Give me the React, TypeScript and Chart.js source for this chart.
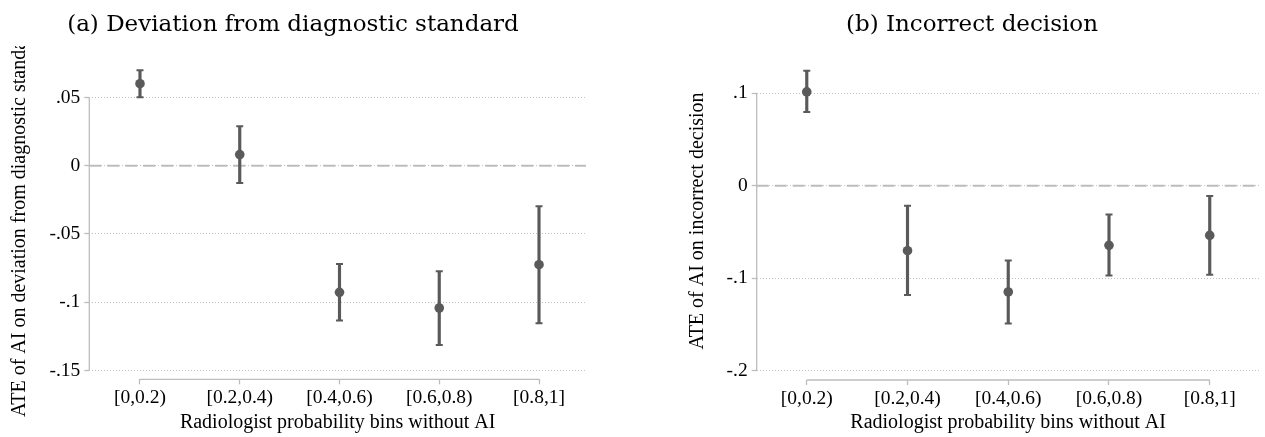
import React, { useEffect, useRef } from 'react';
import { Chart, registerables } from 'chart.js';

Chart.register(...registerables);

// ---------- data ----------
const categories = ['[0,0.2)', '[0.2,0.4)', '[0.4,0.6)', '[0.6,0.8)', '[0.8,1]'];
const xTitle = 'Radiologist probability bins without AI';

const devTitle = '(a) Deviation from diagnostic standard';
const devYTitle = 'ATE of AI on deviation from diagnostic standard';
const devEstimate = [0.06, 0.0081, -0.0927, -0.1042, -0.0725];
const devLower = [0.0501, -0.0127, -0.1133, -0.1313, -0.1154];
const devUpper = [0.0698, 0.0288, -0.072, -0.0773, -0.0297];
const devYTicks = [-0.15, -0.1, -0.05, 0, 0.05];
const devYTickLabels = ['-.15', '-.1', '-.05', '0', '.05'];

const incTitle = '(b) Incorrect decision';
const incYTitle = 'ATE of AI on incorrect decision';
const incEstimate = [0.1017, -0.0702, -0.1148, -0.0644, -0.0536];
const incLower = [0.0798, -0.1182, -0.149, -0.0969, -0.0962];
const incUpper = [0.1244, -0.0216, -0.0807, -0.0309, -0.011];
const incYTicks = [-0.2, -0.1, 0, 0.1];
const incYTickLabels = ['-.2', '-.1', '0', '.1'];

const MARK = '#5a5a5a';
const AXIS = '#bdbdbd';
const GRID = '#c2c2c2';
const SERIF = '"Liberation Serif", "Times New Roman", serif';
const TITLE_FONT = '"DejaVu Serif", serif';

type PanelProps = {
  title: string;
  yTitle: string;
  estimate: number[];
  lower: number[];
  upper: number[];
  yTicks: number[];
  yTickLabels: string[];
  yMin: number;
  yMax: number;
  xMin: number;
  xMax: number;
  left: number;
  width: number;
  yScaleWidth: number;
  xScaleHeight: number;
  padRight: number;
  yTitleX: number;
  clipTop: number;
};

function Panel(p: PanelProps) {
  const ref = useRef<HTMLCanvasElement | null>(null);
  useEffect(() => {
    if (!ref.current) return;
    const axisLines = {
      id: 'axisLines',
      beforeDatasetsDraw(chart: any) {
        const { ctx, chartArea, scales } = chart;
        const ys = scales.y;
        const xs = scales.x;
        ctx.save();
        ctx.strokeStyle = AXIS;
        ctx.lineWidth = 1.3;
        ctx.beginPath();
        ctx.moveTo(chartArea.left, ys.getPixelForValue(p.yTicks[0]));
        ctx.lineTo(chartArea.left, ys.getPixelForValue(p.yTicks[p.yTicks.length - 1]));
        ctx.moveTo(xs.getPixelForValue(1), chartArea.bottom);
        ctx.lineTo(xs.getPixelForValue(categories.length), chartArea.bottom);
        ctx.stroke();
        ctx.restore();
      },
    };
    const yTitlePlugin = {
      id: 'yTitle',
      afterDraw(chart: any) {
        const { ctx, chartArea } = chart;
        ctx.save();
        ctx.beginPath();
        ctx.rect(0, p.clipTop, chart.width, chart.height - p.clipTop);
        ctx.clip();
        ctx.translate(p.yTitleX, (chartArea.top + chartArea.bottom) / 2);
        ctx.rotate(-Math.PI / 2);
        ctx.font = `20px ${SERIF}`;
        ctx.fillStyle = '#000';
        ctx.textAlign = 'center';
        ctx.textBaseline = 'alphabetic';
        ctx.fillText(p.yTitle, 0, 0);
        ctx.restore();
      },
    };
    const chart = new Chart(ref.current, {
      type: 'scatter',
      data: {
        datasets: [
          {
            type: 'scatter',
            data: p.estimate.map((v, i) => ({ x: i + 1, y: v })),
            pointRadius: 4.8,
            pointHoverRadius: 4.8,
            pointBackgroundColor: MARK,
            pointBorderWidth: 0,
            order: 0,
          },
          {
            type: 'scatter',
            data: [
              ...p.upper.map((v, i) => ({ x: i + 1, y: v })),
              ...p.lower.map((v, i) => ({ x: i + 1, y: v })),
            ],
            pointStyle: 'line',
            pointRadius: 3.5,
            pointHoverRadius: 3.5,
            pointBorderColor: MARK,
            pointBorderWidth: 2,
            order: 1,
          },
          {
            type: 'bar',
            data: p.lower.map((lo, i) => ({ x: i + 1, y: [lo, p.upper[i]] })),
            backgroundColor: MARK,
            borderWidth: 0,
            barThickness: 2.5,
            order: 2,
          },
          {
            type: 'line',
            data: [
              { x: p.xMin, y: 0 },
              { x: p.xMax, y: 0 },
            ],
            borderColor: AXIS,
            borderWidth: 2,
            borderDash: [12, 6],
            pointRadius: 0,
            order: 3,
          },
        ] as any,
      },
      options: {
        animation: false,
        responsive: false,
        devicePixelRatio: 1,
        events: [],
        layout: { padding: { left: 0, right: p.padRight, top: 0, bottom: 0 } },
        plugins: {
          legend: { display: false },
          tooltip: { enabled: false },
          title: {
            display: true,
            text: p.title,
            color: '#000',
            font: { family: TITLE_FONT, size: 23, weight: 'normal' as any, lineHeight: 1.2 },
            padding: { top: 11.2, bottom: 23.2 },
          },
        },
        scales: {
          x: {
            type: 'linear',
            min: p.xMin,
            max: p.xMax,
            offset: false,
            bounds: 'data',
            afterBuildTicks: (s: any) => {
              s.ticks = categories.map((_, i) => ({ value: i + 1 }));
            },
            afterFit: (s: any) => {
              s.height = p.xScaleHeight;
            },
            ticks: {
              callback: (_v: any, i: number) => categories[i],
              color: '#000',
              font: { family: SERIF, size: 19.5 },
              padding: 2,
              maxRotation: 0,
              autoSkip: false,
            },
            grid: {
              drawOnChartArea: false,
              drawTicks: true,
              tickLength: 5,
              tickColor: AXIS,
              tickWidth: 1.3,
              offset: false,
            },
            border: { display: false },
            title: {
              display: true,
              text: xTitle,
              color: '#000',
              font: { family: SERIF, size: 20, lineHeight: 1.2 },
              padding: { top: 0, bottom: 2 },
            },
          },
          y: {
            type: 'linear',
            min: p.yMin,
            max: p.yMax,
            bounds: 'data',
            afterBuildTicks: (s: any) => {
              s.ticks = p.yTicks.map((v) => ({ value: v }));
            },
            afterFit: (s: any) => {
              s.width = p.yScaleWidth;
            },
            ticks: {
              callback: (_v: any, i: number) => p.yTickLabels[i],
              color: '#000',
              font: { family: SERIF, size: 19.5 },
              padding: 4,
              autoSkip: false,
            },
            grid: {
              color: GRID,
              lineWidth: 1,
              drawTicks: true,
              tickLength: 5,
              tickColor: AXIS,
              tickWidth: 1.3,
            },
            border: { display: false, dash: [1, 2] },
          },
        } as any,
      },
      plugins: [axisLines, yTitlePlugin],
    } as any);
    return () => chart.destroy();
  }, []);
  return (
    <canvas
      ref={ref}
      width={p.width}
      height={437}
      style={{ position: 'absolute', left: p.left, top: 0, width: p.width, height: 437 }}
    />
  );
}

export default function App() {
  return (
    <div style={{ position: 'fixed', left: 0, top: 0, width: 1265, height: 437, background: '#fff', overflow: 'hidden' }}>
      <Panel
        title={devTitle}
        yTitle={devYTitle}
        estimate={devEstimate}
        lower={devLower}
        upper={devUpper}
        yTicks={devYTicks}
        yTickLabels={devYTickLabels}
        yMin={-0.1564}
        yMax={0.0759}
        xMin={0.492}
        xMax={5.471}
        left={0}
        width={592}
        yScaleWidth={89.3}
        xScaleHeight={57.7}
        padRight={6}
        yTitleX={25}
        clipTop={46}
      />
      <Panel
        title={incTitle}
        yTitle={incYTitle}
        estimate={incEstimate}
        lower={incLower}
        upper={incUpper}
        yTicks={incYTicks}
        yTickLabels={incYTickLabels}
        yMin={-0.21}
        yMax={0.1339}
        xMin={0.503}
        xMax={5.494}
        left={679}
        width={586}
        yScaleWidth={77.7}
        xScaleHeight={57}
        padRight={0}
        yTitleX={24}
        clipTop={0}
      />
    </div>
  );
}
